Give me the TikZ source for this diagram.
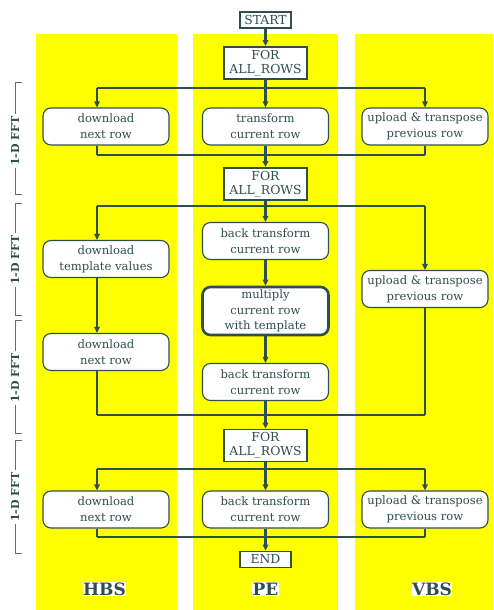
\documentclass[tikz,border=0pt]{standalone}
\usepackage{fontspec}
\setmainfont{DejaVu Serif}
\usepackage{tikz}
\usetikzlibrary{arrows.meta,positioning}
\definecolor{lanebg}{RGB}{255,255,0}
\definecolor{ink}{RGB}{47,79,79}
\tikzset{
  proc/.style={rectangle, rounded corners=8pt, draw=ink, line width=1.1pt, fill=white,
               minimum height=37pt, minimum width=126pt, align=center, text=ink,
               font=\fontsize{11.6}{15.7}\selectfont, inner sep=1pt},
  mainproc/.style={proc, line width=2.6pt, minimum height=48pt},
  loopbox/.style={rectangle, draw=ink, line width=1.8pt, fill=white, text=ink,
                  minimum height=32pt, minimum width=83pt, align=center,
                  font=\fontsize{12.4}{14}\selectfont, inner sep=1pt},
  termbox/.style={loopbox, minimum height=16pt, minimum width=51pt},
  arrow/.style={-{Triangle[length=6pt,width=5.5pt]}, line width=2.8pt, ink},
  flow/.style={line width=2.8pt, ink},
  bus/.style={line width=2pt, ink},
  brk/.style={line width=0.9pt, ink!80},
  fftlbl/.style={rotate=90, fill=white, text=ink, inner sep=2pt,
                 font=\fontsize{11}{12}\selectfont\bfseries},
  lanelbl/.style={fill=white, text=ink, inner sep=0.5pt,
                  font=\fontsize{17}{20}\selectfont\bfseries},
}

\begin{document}
\begin{tikzpicture}[x=1pt, y=-1pt]
  \useasboundingbox (0,0) rectangle (493,610);
  % lanes
  \fill[lanebg] (36,34) rectangle (177,610);
  \fill[lanebg] (193,34) rectangle (338,610);
  \fill[lanebg] (355,34) rectangle (493,610);
  \node[lanelbl] (hbs) at (104.5,589) {HBS};
  \node[lanelbl] (pe) at (265.5,589) {PE};
  \node[lanelbl] (vbs) at (432,589) {VBS};

  % 1-D FFT brackets
  \draw[brk] (22,82) -- (15,82) -- (15,194) -- (22,194);
  \draw[brk] (22,203) -- (15,203) -- (15,315) -- (22,315);
  \draw[brk] (22,320) -- (15,320) -- (15,433) -- (22,433);
  \draw[brk] (22,440) -- (15,440) -- (15,553) -- (22,553);
  \node[fftlbl] (fft1) at (15,141) {1-D FFT};
  \node[fftlbl] (fft2) at (15,260) {1-D FFT};
  \node[fftlbl] (fft3) at (15,378) {1-D FFT};
  \node[fftlbl] (fft4) at (15,497) {1-D FFT};

  % nodes
  \node[termbox] (start) at (265.5,20) {START};
  \node[loopbox] (for1) at (265.5,63) {FOR\\ALL\_ROWS};
  \node[proc] (dl1) at (106,126.5) {download\\next row};
  \node[proc] (tr1) at (265.5,126.5) {transform\\current row};
  \node[proc] (up1) at (425,126.5) {upload \& transpose\\previous row};
  \node[loopbox] (for2) at (265.5,184) {FOR\\ALL\_ROWS};
  \node[proc] (dltpl) at (106,259) {download\\template values};
  \node[proc] (bt1) at (265.5,241) {back transform\\current row};
  \node[mainproc] (mul) at (265.5,311) {multiply\\current row\\with template};
  \node[proc] (dl2) at (106,352) {download\\next row};
  \node[proc] (bt2) at (265.5,382) {back transform\\current row};
  \node[proc] (up2) at (425,289) {upload \& transpose\\previous row};
  \node[loopbox] (for3) at (265.5,445.5) {FOR\\ALL\_ROWS};
  \node[proc] (dl3) at (106,509.5) {download\\next row};
  \node[proc] (bt3) at (265.5,509.5) {back transform\\current row};
  \node[proc] (up3) at (425,509.5) {upload \& transpose\\previous row};
  \node[termbox] (stop) at (265.5,559.5) {END};

  % bus points
  \coordinate (s1w) at (97,88);  \coordinate (s1e) at (425,88);
  \coordinate (j1w) at (97,155); \coordinate (j1e) at (425,155);
  \coordinate (s2w) at (97,206); \coordinate (s2e) at (425,206);
  \coordinate (j2w) at (97,415); \coordinate (j2e) at (425,415);
  \coordinate (s3w) at (97,469); \coordinate (s3e) at (425,469);
  \coordinate (j3w) at (97,537); \coordinate (j3e) at (425,537);

  % first pass
  \draw[arrow] (start) -- (for1);
  \draw[bus] (s1w) -- (s1e);
  \draw[arrow] (for1) -- (tr1);
  \draw[arrow] (s1w) -- (s1w |- dl1.north);
  \draw[arrow] (s1e) -- (up1);
  \draw[flow] (s1w |- dl1.south) -- (j1w);
  \draw[flow] (up1) -- (j1e);
  \draw[bus] (j1w) -- (j1e);
  \draw[arrow] (tr1) -- (for2);

  % second pass
  \draw[bus] (s2w) -- (s2e);
  \draw[arrow] (for2) -- (bt1);
  \draw[arrow] (s2w) -- (s2w |- dltpl.north);
  \draw[arrow] (s2w |- dltpl.south) -- (s2w |- dl2.north);
  \draw[flow] (s2w |- dl2.south) -- (j2w);
  \draw[arrow] (bt1) -- (mul);
  \draw[arrow] (mul) -- (bt2);
  \draw[arrow] (s2e) -- (up2);
  \draw[flow] (up2) -- (j2e);
  \draw[bus] (j2w) -- (j2e);
  \draw[arrow] (bt2) -- (for3);

  % third pass
  \draw[bus] (s3w) -- (s3e);
  \draw[arrow] (for3) -- (bt3);
  \draw[arrow] (s3w) -- (s3w |- dl3.north);
  \draw[arrow] (s3e) -- (up3);
  \draw[flow] (s3w |- dl3.south) -- (j3w);
  \draw[flow] (up3) -- (j3e);
  \draw[bus] (j3w) -- (j3e);
  \draw[arrow] (bt3) -- (stop);
\end{tikzpicture}
\end{document}
